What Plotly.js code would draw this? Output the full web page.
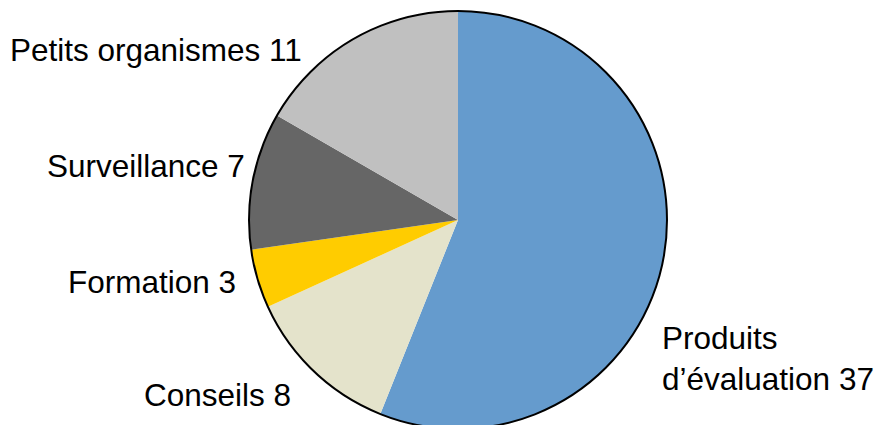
<!DOCTYPE html>
<html><head><meta charset="utf-8">
<script src="https://cdn.plot.ly/plotly-3.0.1.min.js"></script>
<style>html,body{margin:0;padding:0;overflow:hidden;background:#fff;}</style>
</head><body>
<div id="chart" style="width:877px;height:434px;"></div>
<script>
const categories = ["Produits d’évaluation", "Conseils", "Formation", "Surveillance", "Petits organismes"];
const values = [37, 8, 3, 7, 11];
const colors = ["#659BCD", "#E4E3CB", "#FFCC00", "#666666", "#C0C0C0"];

// label anchor positions for each category
const labelX = [660, 293, 238, 247, 304];
const labelAnchor = ["left", "right", "right", "right", "right"];
const labelYpx = [358, 395, 282, 166, 50]; // pixel y (page) of label centers
const H = 434, T = 11, B = 5;
const plotH = H - T - B;

const annotations = categories.map((c, i) => ({
  xref: "paper", yref: "paper",
  x: labelX[i] / 877,
  y: 1 - (labelYpx[i] - T) / plotH,
  xanchor: labelAnchor[i], yanchor: "middle", align: labelAnchor[i],
  text: (i === 0 ? c.replace(" ", "<br>") : c) + " " + values[i],
  showarrow: false,
  font: {family: "Liberation Sans, Arial, sans-serif", size: 31.5, color: "#000"}
}));

const x0 = 249/877, x1 = 667/877;
const data = [{
  type: "pie",
  labels: categories,
  values: values,
  marker: {colors: colors, line: {width: 0}},
  sort: false,
  direction: "clockwise",
  rotation: 0,
  textinfo: "none",
  hoverinfo: "none",
  domain: {x: [x0, x1], y: [0, 1]},
  showlegend: false
}];

const layout = {
  width: 877, height: H,
  margin: {l: 0, r: 0, t: T, b: B},
  paper_bgcolor: "#fff",
  showlegend: false,
  annotations: annotations,
  shapes: [{
    type: "circle", xref: "paper", yref: "paper",
    x0: x0, x1: x1, y0: 0, y1: 1,
    line: {color: "#000", width: 2}, fillcolor: "rgba(0,0,0,0)"
  }]
};
Plotly.newPlot("chart", data, layout, {displayModeBar: false, staticPlot: true});
</script>
</body></html>
